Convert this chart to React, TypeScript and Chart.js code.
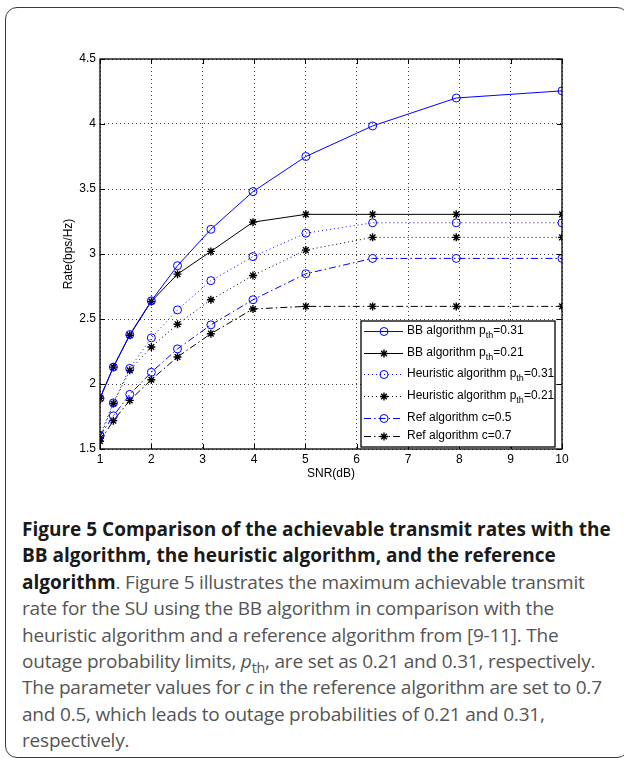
import React, { useEffect, useRef } from "react";
import { Chart, registerables } from "chart.js";

Chart.register(...registerables);

// ---- data ----
const snrValues = [1, 1.26, 1.58, 2.0, 2.51, 3.16, 3.98, 5.01, 6.31, 7.94, 10];
const bbRate031 = [1.89, 2.13, 2.38, 2.64, 2.91, 3.19, 3.48, 3.75, 3.985, 4.2, 4.255];
const bbRate021 = [1.89, 2.13, 2.375, 2.635, 2.845, 3.02, 3.245, 3.305, 3.305, 3.305, 3.305];
const heurRate031 = [1.605, 1.855, 2.12, 2.355, 2.57, 2.795, 2.98, 3.16, 3.24, 3.24, 3.24];
const heurRate021 = [1.585, 1.85, 2.105, 2.285, 2.46, 2.648, 2.835, 3.03, 3.128, 3.128, 3.128];
const refRate05 = [1.6, 1.755, 1.92, 2.09, 2.27, 2.455, 2.648, 2.848, 2.966, 2.966, 2.966];
const refRate07 = [1.56, 1.718, 1.874, 2.033, 2.208, 2.387, 2.577, 2.597, 2.597, 2.597, 2.597];

const seriesLabels = [
  "BB algorithm p_{th}=0.31",
  "BB algorithm p_{th}=0.21",
  "Heuristic algorithm p_{th}=0.31",
  "Heuristic algorithm p_{th}=0.21",
  "Ref algorithm c=0.5",
  "Ref algorithm c=0.7",
];
const xAxisLabel = "SNR(dB)";
const yAxisLabel = "Rate(bps/Hz)";

const BLUE = "#0000ff";
const BLACK = "#000000";
const DOT = [1, 3];
const DASHDOT = [7, 3, 1.5, 3];

const FONT = "'Liberation Sans', Arial, sans-serif";

function drawMarker(ctx: CanvasRenderingContext2D, style: string, x: number, y: number, r: number) {
  ctx.beginPath();
  if (style === "circle") {
    ctx.arc(x, y, r, 0, Math.PI * 2);
  } else {
    const d = r * Math.SQRT1_2;
    ctx.moveTo(x - r, y); ctx.lineTo(x + r, y);
    ctx.moveTo(x, y - r); ctx.lineTo(x, y + r);
    ctx.moveTo(x - d, y - d); ctx.lineTo(x + d, y + d);
    ctx.moveTo(x - d, y + d); ctx.lineTo(x + d, y - d);
  }
  ctx.stroke();
}

function drawRichText(ctx: CanvasRenderingContext2D, text: string, x: number, y: number) {
  const parts = text.split(/_\{([^}]*)\}/);
  let cx = x;
  parts.forEach((p, i) => {
    if (i % 2 === 0) {
      ctx.font = `12px ${FONT}`;
      ctx.fillText(p, cx, y);
    } else {
      ctx.font = `9px ${FONT}`;
      ctx.fillText(p, cx, y + 5);
    }
    cx += ctx.measureText(p).width;
  });
}

const matlabPlugin = {
  id: "matlabDecor",
  afterDatasetsDraw(chart: any) {
    const { ctx, chartArea: a, scales } = chart;
    ctx.save();
    ctx.setLineDash([]);
    ctx.strokeStyle = "#000";
    ctx.lineWidth = 1;
    // inward ticks
    const tl = 5;
    scales.x.ticks.forEach((t: any) => {
      const px = Math.round(scales.x.getPixelForValue(t.value)) + 0.5;
      ctx.beginPath();
      ctx.moveTo(px, a.bottom); ctx.lineTo(px, a.bottom - tl);
      ctx.moveTo(px, a.top); ctx.lineTo(px, a.top + tl);
      ctx.stroke();
    });
    scales.y.ticks.forEach((t: any) => {
      const py = Math.round(scales.y.getPixelForValue(t.value)) + 0.5;
      ctx.beginPath();
      ctx.moveTo(a.left, py); ctx.lineTo(a.left + tl, py);
      ctx.moveTo(a.right, py); ctx.lineTo(a.right - tl, py);
      ctx.stroke();
    });
    // frame
    ctx.lineWidth = 1.3;
    ctx.strokeRect(a.left, a.top, a.right - a.left, a.bottom - a.top);

    // legend
    const lx0 = 361, ly0 = 321, lx1 = 555, ly1 = 447;
    ctx.fillStyle = "#fff";
    ctx.fillRect(lx0, ly0, lx1 - lx0, ly1 - ly0);
    ctx.strokeStyle = "#000";
    ctx.lineWidth = 1.3;
    ctx.strokeRect(lx0, ly0, lx1 - lx0, ly1 - ly0);
    const rowY = [331, 353, 374, 396, 418, 436];
    chart.data.datasets.forEach((ds: any, i: number) => {
      const y = rowY[i];
      ctx.strokeStyle = ds.borderColor;
      ctx.lineWidth = ds.borderWidth;
      ctx.setLineDash(ds.borderDash || []);
      ctx.beginPath();
      ctx.moveTo(364, y + 0.5);
      ctx.lineTo(403, y + 0.5);
      ctx.stroke();
      ctx.setLineDash([]);
      ctx.strokeStyle = ds.pointBorderColor;
      ctx.lineWidth = ds.pointBorderWidth;
      drawMarker(ctx, ds.pointStyle, 384, y + 0.5, ds.pointRadius);
      ctx.fillStyle = "#000";
      ctx.textBaseline = "middle";
      ctx.textAlign = "left";
      drawRichText(ctx, ds.label, 407, y);
    });
    ctx.restore();
  },
};

function makeDataset(label: string, data: number[], color: string, dash: number[], marker: string) {
  return {
    label,
    data: snrValues.map((x, i) => ({ x, y: data[i] })),
    borderColor: color,
    borderWidth: 1,
    borderDash: dash,
    pointStyle: marker,
    pointRadius: 4,
    pointBorderColor: color,
    pointBackgroundColor: "rgba(0,0,0,0)",
    pointBorderWidth: marker === "star" ? 1.4 : 1,
    fill: false,
    tension: 0,
  };
}

function ChartView() {
  const ref = useRef<HTMLCanvasElement | null>(null);
  useEffect(() => {
    if (!ref.current) return;
    const chart = new Chart(ref.current, {
      type: "line",
      data: {
        datasets: [
          makeDataset(seriesLabels[0], bbRate031, BLUE, [], "circle"),
          makeDataset(seriesLabels[1], bbRate021, BLACK, [], "star"),
          makeDataset(seriesLabels[2], heurRate031, BLUE, DOT, "circle"),
          makeDataset(seriesLabels[3], heurRate021, BLACK, DOT, "star"),
          makeDataset(seriesLabels[4], refRate05, BLUE, DASHDOT, "circle"),
          makeDataset(seriesLabels[5], refRate07, BLACK, DASHDOT, "star"),
        ],
      },
      options: {
        animation: false,
        responsive: false,
        devicePixelRatio: 1,
        layout: { padding: { left: 0, top: 59, right: 62, bottom: 11 } },
        plugins: { legend: { display: false }, tooltip: { enabled: false } },
        scales: {
          x: {
            type: "linear",
            min: 1,
            max: 10,
            ticks: {
              stepSize: 1,
              color: "#000",
              font: { family: FONT, size: 12 },
              padding: 3,
              maxRotation: 0,
              callback: (v: any) => String(Number(v)),
            },
            grid: { color: "rgba(0,0,0,0.75)", lineWidth: 1, drawTicks: false },
            border: { display: false, dash: DOT },
            title: { display: true, text: xAxisLabel, color: "#000", font: { family: FONT, size: 12 }, padding: { top: 0, bottom: 8 } },
            afterFit: (s: any) => { s.height = 40; },
          },
          y: {
            type: "linear",
            min: 1.5,
            max: 4.5,
            ticks: {
              stepSize: 0.5,
              color: "#000",
              font: { family: FONT, size: 12 },
              padding: 4,
              callback: (v: any) => String(Number(v)),
            },
            grid: { color: "rgba(0,0,0,0.75)", lineWidth: 1, drawTicks: false },
            border: { display: false, dash: DOT },
            title: { display: true, text: yAxisLabel, color: "#000", font: { family: FONT, size: 12 }, padding: { top: 61, bottom: 0 } },
            afterFit: (s: any) => { s.width = 100; },
          },
        },
      },
      plugins: [matlabPlugin],
    } as any);
    return () => chart.destroy();
  }, []);
  return <canvas ref={ref} width={624} height={500} style={{ display: "block", width: 624, height: 500 }} />;
}

const captionFont = "'Open Sans', 'Noto Sans', sans-serif";
const boldStyle = { fontWeight: 700, color: "#1a1a1a", letterSpacing: "0px" } as const;

export default function App() {
  return (
    <>
      <div
        style={{
          position: "absolute",
          left: 5,
          top: 7,
          width: 624,
          height: 751,
          border: "1.5px solid #3a3a3a",
          borderRadius: 12,
          boxSizing: "border-box",
          background: "#fff",
        }}
      />
      <div style={{ position: "absolute", left: 0, top: 0, width: 624, height: 500 }}>
        <ChartView />
      </div>
      <div
        style={{
          position: "absolute",
          left: 22,
          top: 516,
          fontFamily: captionFont,
          fontSize: 19,
          lineHeight: "26.4px",
          color: "#555",
          whiteSpace: "nowrap",
          letterSpacing: "-0.2px",
        }}
      >
        <div style={boldStyle}>Figure 5 Comparison of the achievable transmit rates with the</div>
        <div style={boldStyle}>BB algorithm, the heuristic algorithm, and the reference</div>
        <div>
          <span style={boldStyle}>algorithm</span>. Figure 5 illustrates the maximum achievable transmit
        </div>
        <div>rate for the SU using the BB algorithm in comparison with the</div>
        <div>heuristic algorithm and a reference algorithm from [9-11]. The</div>
        <div>
          outage probability limits, <i>p</i>
          <span style={{ fontSize: "0.75em", position: "relative", top: 5, lineHeight: 0 }}>th</span>, are set as 0.21 and 0.31, respectively.
        </div>
        <div>
          The parameter values for <i>c</i> in the reference algorithm are set to 0.7
        </div>
        <div>and 0.5, which leads to outage probabilities of 0.21 and 0.31,</div>
        <div>respectively.</div>
      </div>
    </>
  );
}
